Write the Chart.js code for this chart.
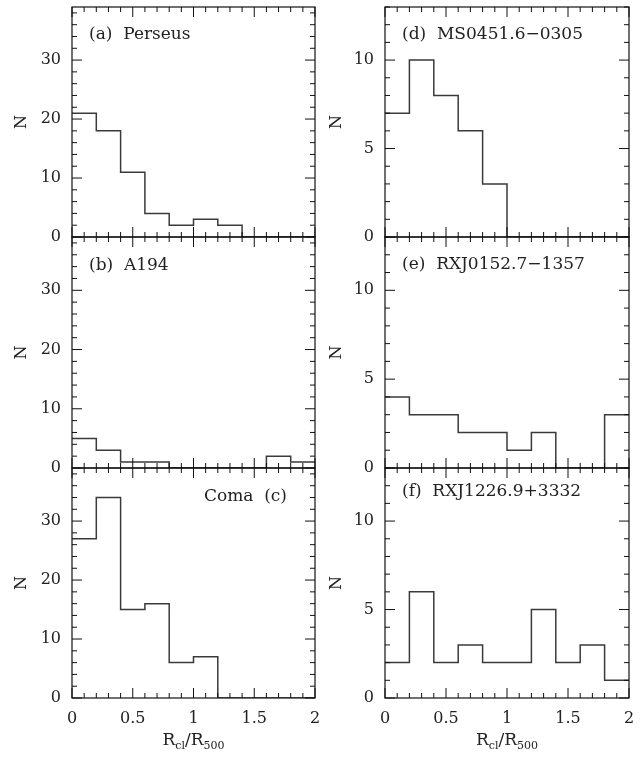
<!DOCTYPE html>
<html>
<head>
<meta charset="utf-8">
<script src="https://cdn.jsdelivr.net/npm/chart.js@4.4.1/dist/chart.umd.min.js"></script>
<style>
  html, body { margin: 0; padding: 0; background: #fff; }
  #wrap { position: relative; width: 641px; height: 760px; overflow: hidden; background: #fff; }
  #wrap canvas { position: absolute; }
</style>
</head>
<body>
<div id="wrap"></div>
<script>
// bin left edges (R_cl / R_500), bins are 0.2 wide
const binEdges = [0, 0.2, 0.4, 0.6, 0.8, 1.0, 1.2, 1.4, 1.6, 1.8];
const binEnd = 2;

// counts per bin
const perseusN = [21, 18, 11, 4, 2, 3, 2, 0, 0, 0];
const a194N    = [5, 3, 1, 1, 0, 0, 0, 0, 2, 1];
const comaN    = [27, 34, 15, 16, 6, 7, 0, 0, 0, 0];
const ms0451N  = [7, 10, 8, 6, 3, 0, 0, 0, 0, 0];
const rxj0152N = [4, 3, 3, 2, 2, 1, 2, 0, 0, 3];
const rxj1226N = [2, 6, 2, 3, 2, 2, 5, 2, 3, 1];

const xTicks = [0, 0.5, 1, 1.5, 2];
const xTickLabels = ['0', '0.5', '1', '1.5', '2'];
const yTicksLeft = [0, 10, 20, 30];
const yTicksRight = [0, 5, 10];

const SERIF = '"DejaVu Serif", "Liberation Serif", serif';

// layout of the 2x3 grid (pixels in the 641x760 page)
const cols = [
  { canvasLeft: 0,   width: 320, areaLeft: 72,  areaRight: 315, titlePad: 12 },
  { canvasLeft: 320, width: 321, areaLeft: 385, areaRight: 629, titlePad: 7 }
];
const rows = [
  { top: 7,   bottom: 237 },
  { top: 237, bottom: 468 },
  { top: 468, bottom: 698 }
];

const panels = [
  { text: '(a)  Perseus',        counts: perseusN, col: 0, row: 0, yMax: 39, major: 10, minor: 2, yTicks: yTicksLeft,  align: 'left',  dy: 28 },
  { text: '(b)  A194',           counts: a194N,    col: 0, row: 1, yMax: 39, major: 10, minor: 2, yTicks: yTicksLeft,  align: 'left',  dy: 29 },
  { text: 'Coma  (c)',           counts: comaN,    col: 0, row: 2, yMax: 39, major: 10, minor: 2, yTicks: yTicksLeft,  align: 'right', dy: 29 },
  { text: '(d)  MS0451.6\u22120305',  counts: ms0451N,  col: 1, row: 0, yMax: 13, major: 5, minor: 1, yTicks: yTicksRight, align: 'left', dy: 28 },
  { text: '(e)  RXJ0152.7\u22121357', counts: rxj0152N, col: 1, row: 1, yMax: 13, major: 5, minor: 1, yTicks: yTicksRight, align: 'left', dy: 28 },
  { text: '(f)  RXJ1226.9+3332',  counts: rxj1226N, col: 1, row: 2, yMax: 13, major: 5, minor: 1, yTicks: yTicksRight, align: 'left', dy: 24 }
];

// box, inward ticks on all sides, panel label and x title
const framePlugin = {
  id: 'frame',
  afterDraw(chart, args, opts) {
    const { ctx, chartArea: a, scales: { x, y } } = chart;
    ctx.save();
    ctx.strokeStyle = '#111';
    ctx.lineWidth = 1.2;
    ctx.strokeRect(a.left, a.top, a.right - a.left, a.bottom - a.top);

    ctx.beginPath();
    for (let i = 0; i <= 20; i++) {
      const px = x.getPixelForValue(i / 10);
      const len = i % 5 === 0 ? 10 : 5;
      ctx.moveTo(px, a.bottom); ctx.lineTo(px, a.bottom - len);
      ctx.moveTo(px, a.top); ctx.lineTo(px, a.top + len);
    }
    for (let v = 0; v <= y.max; v += opts.minor) {
      const py = y.getPixelForValue(v);
      const len = v % opts.major === 0 ? 10 : 5;
      ctx.moveTo(a.left, py); ctx.lineTo(a.left + len, py);
      ctx.moveTo(a.right, py); ctx.lineTo(a.right - len, py);
    }
    ctx.lineWidth = 1;
    ctx.stroke();

    // panel label
    ctx.fillStyle = '#222';
    ctx.font = '17px ' + SERIF;
    ctx.textBaseline = 'middle';
    if (opts.align === 'right') {
      ctx.textAlign = 'right';
      ctx.fillText(opts.text, a.right - 28, a.top + opts.dy);
    } else {
      ctx.textAlign = 'left';
      ctx.fillText(opts.text, a.left + 17, a.top + opts.dy);
    }

    // x axis title R_cl / R_500 with subscripts
    if (opts.xTitle) {
      const big = '17px ' + SERIF, small = '11px ' + SERIF;
      const parts = [['R', big, 0], ['cl', small, 4], ['/', big, 0], ['R', big, 0], ['500', small, 4]];
      let w = 0;
      parts.forEach(p => { ctx.font = p[1]; w += ctx.measureText(p[0]).width; });
      let cx = (a.left + a.right) / 2 - w / 2;
      const base = 745 - chart.canvas.offsetTop;
      ctx.textAlign = 'left';
      ctx.textBaseline = 'alphabetic';
      parts.forEach(p => {
        ctx.font = p[1];
        ctx.fillText(p[0], cx, base + p[2]);
        cx += ctx.measureText(p[0]).width;
      });
    }
    ctx.restore();
  }
};

const wrap = document.getElementById('wrap');

panels.forEach(p => {
  const c = cols[p.col], r = rows[p.row];
  const isBottom = p.row === 2;
  const canvasTop = Math.max(0, r.top - 10);
  const canvasBottom = isBottom ? 760 : r.bottom + 12;

  const canvas = document.createElement('canvas');
  canvas.width = c.width;
  canvas.height = canvasBottom - canvasTop;
  canvas.style.left = c.canvasLeft + 'px';
  canvas.style.top = canvasTop + 'px';
  wrap.appendChild(canvas);

  // step points: left edge of every bin, plus the right edge of the last one
  const pts = binEdges.map((e, i) => ({ x: e, y: p.counts[i] }));
  pts.push({ x: binEnd, y: p.counts[p.counts.length - 1] });

  new Chart(canvas, {
    type: 'line',
    data: {
      datasets: [{
        data: pts,
        stepped: true,
        borderColor: '#3a3a3a',
        borderWidth: 1.5,
        pointRadius: 0,
        fill: false
      }]
    },
    options: {
      responsive: false,
      animation: false,
      events: [],
      layout: {
        padding: {
          top: r.top - canvasTop,
          bottom: isBottom ? 0 : 12,
          left: 0,
          right: c.canvasLeft + c.width - c.areaRight
        }
      },
      plugins: {
        legend: { display: false },
        tooltip: { enabled: false },
        frame: { text: p.text, align: p.align, dy: p.dy, major: p.major, minor: p.minor, xTitle: isBottom }
      },
      scales: {
        x: {
          type: 'linear',
          min: 0,
          max: 2,
          grid: { display: false, drawTicks: false },
          border: { display: false },
          afterBuildTicks: s => { s.ticks = xTicks.map(v => ({ value: v })); },
          ticks: {
            display: isBottom,
            padding: 11,
            color: '#222',
            font: { family: SERIF, size: 16 },
            maxRotation: 0,
            callback: v => xTickLabels[xTicks.indexOf(v)]
          },
          afterFit: s => {
            s.height = isBottom ? 760 - 698 : 0;
            s.paddingLeft = 0;
            s.paddingRight = 0;
          }
        },
        y: {
          type: 'linear',
          min: 0,
          max: p.yMax,
          grid: { display: false, drawTicks: false },
          border: { display: false },
          afterBuildTicks: s => { s.ticks = p.yTicks.map(v => ({ value: v })); },
          ticks: {
            padding: 11,
            color: '#222',
            font: { family: SERIF, size: 16 },
            callback: v => String(v)
          },
          title: {
            display: true,
            text: 'N',
            color: '#222',
            font: { family: SERIF, size: 16 },
            padding: { top: c.titlePad, bottom: 0 }
          },
          afterFit: s => {
            s.width = c.areaLeft - c.canvasLeft;
            s.paddingTop = 0;
            s.paddingBottom = 0;
          }
        }
      }
    },
    plugins: [framePlugin]
  });
});
</script>
</body>
</html>
